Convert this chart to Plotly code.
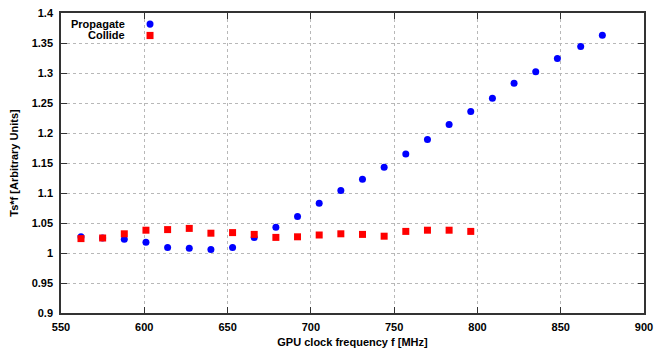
import plotly.graph_objects as go

# GPU clock frequencies [MHz]
freq_propagate = [562, 575, 588, 601, 614, 627, 640, 653, 666, 679, 692, 705, 718,
                  731, 744, 757, 770, 783, 796, 809, 822, 835, 848, 862, 875]
ts_propagate = [1.027, 1.025, 1.023, 1.018, 1.009, 1.008, 1.006, 1.009, 1.026, 1.043,
                1.061, 1.083, 1.104, 1.123, 1.143, 1.165, 1.189, 1.214, 1.236, 1.258,
                1.283, 1.302, 1.324, 1.344, 1.363]

freq_collide = [562, 575, 588, 601, 614, 627, 640, 653, 666, 679, 692, 705, 718,
                731, 744, 757, 770, 783, 796]
ts_collide = [1.024, 1.025, 1.032, 1.038, 1.039, 1.041, 1.033, 1.034, 1.031, 1.026,
              1.027, 1.030, 1.032, 1.031, 1.028, 1.036, 1.038, 1.038, 1.036]

FONT = "Liberation Sans"

fig = go.Figure()

fig.add_trace(go.Scatter(
    x=freq_propagate, y=ts_propagate, mode="markers", name="Propagate",
    marker=dict(symbol="circle", size=7, color="#0000ff"),
))
fig.add_trace(go.Scatter(
    x=freq_collide, y=ts_collide, mode="markers", name="Collide",
    marker=dict(symbol="square", size=7, color="#ff0000"),
))

axis_style = dict(
    showline=True, linecolor="#333333", linewidth=1.5, mirror="allticks",
    ticks="inside", ticklen=6, tickcolor="#333333",
    showgrid=True, gridcolor="#b8b8b8", griddash="dot", gridwidth=1,
    zeroline=False, automargin=False, ticklabeloverflow="allow",
    tickfont=dict(family=FONT, size=11, color="black", weight="bold"),
)

fig.update_xaxes(range=[550, 900], dtick=50, ticklabelstandoff=3, **axis_style,
                 title=dict(text="<b>GPU clock frequency f [MHz]</b>", standoff=6,
                            font=dict(family=FONT, size=11, color="black")))
fig.update_yaxes(range=[0.9, 1.4], dtick=0.05, tickformat="~g", ticklabelstandoff=4,
                 **axis_style,
                 title=dict(text="<b>Ts*f [Arbitrary Units]</b>", standoff=19,
                            font=dict(family=FONT, size=11, color="black")))

# gnuplot-style key: label text right-aligned, symbol to its right
fig.add_annotation(x=0.1135, y=0.963, xref="paper", yref="paper", xanchor="right",
                   yanchor="middle", showarrow=False, text="<b>Propagate</b>",
                   font=dict(family=FONT, size=11, color="black"))
fig.add_annotation(x=0.1135, y=0.925, xref="paper", yref="paper", xanchor="right",
                   yanchor="middle", showarrow=False, text="<b>Collide</b>",
                   font=dict(family=FONT, size=11, color="black"))
fig.add_shape(type="circle", xref="paper", yref="paper",
              x0=0.1467, x1=0.1587, y0=0.951, y1=0.975,
              fillcolor="#0000ff", line=dict(width=0))
fig.add_shape(type="rect", xref="paper", yref="paper",
              x0=0.1467, x1=0.1587, y0=0.913, y1=0.937,
              fillcolor="#ff0000", line=dict(width=0))

# the page body adds an 8px offset, so the figure is 8px smaller than the window
fig.update_layout(
    width=656, height=341,
    margin=dict(l=53, r=20, t=5, b=36),
    plot_bgcolor="white", paper_bgcolor="white",
    showlegend=False,
    font=dict(family=FONT, size=11, color="black"),
)

fig.write_html("out.html")
